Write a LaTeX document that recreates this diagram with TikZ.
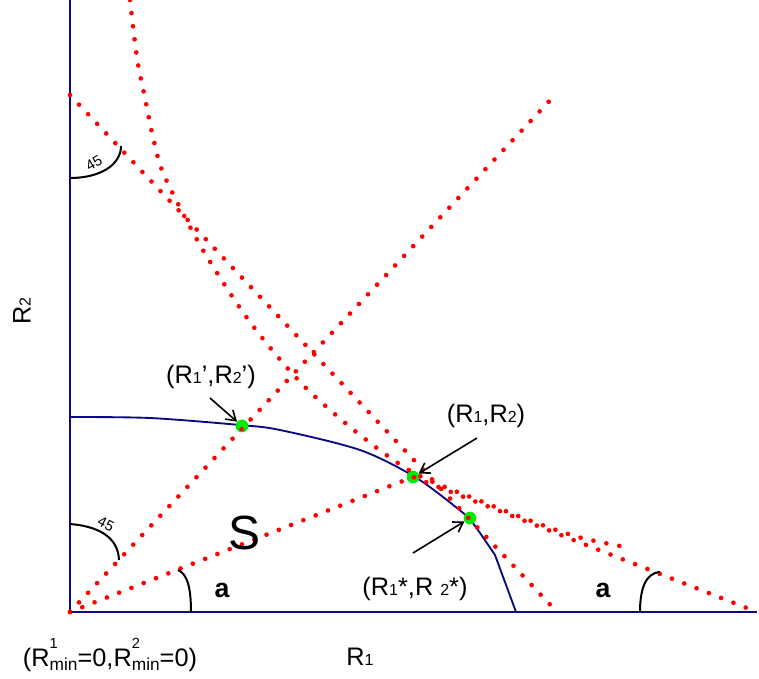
\documentclass[tikz,border=0pt]{standalone}
\usepackage{fontspec}
\setmainfont{Liberation Sans}
\usepackage{tikz}
\usetikzlibrary{arrows.meta,positioning}
\definecolor{axisblue}{RGB}{10,10,130}
\definecolor{ptgreen}{RGB}{0,235,0}
\newcommand{\lsub}[1]{{\fontsize{12}{12}\selectfont #1}}
\newcommand{\rmin}[1]{R\rlap{\raisebox{1.35ex}{\fontsize{11}{11}\selectfont #1}}\raisebox{-0.3ex}{\fontsize{13}{13}\selectfont min}}

\begin{document}
\begin{tikzpicture}[x=0.75pt, y=-0.75pt,
  axisline/.style={draw=axisblue, line width=1.9pt},
  frontier/.style={draw=axisblue, line width=1.4pt},
  reddots/.style={draw=red, line width=3.5pt, line cap=round, dash pattern=on 0pt off 9.9pt},
  hitpt/.style={circle, fill=ptgreen, minimum size=9.5pt, inner sep=0pt},
  lbl/.style={font=\fontsize{19}{22}\selectfont, inner sep=0pt},
  callout/.style={-{Straight Barb[length=7pt,width=9pt]}, line width=1.2pt},
  anglearc/.style={line width=1.5pt}]
\useasboundingbox (0,0) rectangle (759,678);
\coordinate (O) at (70,612);
\coordinate (Ytop) at (70,0);
\coordinate (Xend) at (757,612);
% axes
\draw[axisline] (Ytop) -- (O) -- (Xend);
% capacity region boundary
\draw[frontier] plot[smooth, tension=0.5] coordinates {(70,417) (150,418) (240,425) (280,430) (360,450) (415,477) (457,508) (472,522) (495,555)} -- (516,612);
% operating points
\node[hitpt] (Pp) at (242,426) {};
\node[hitpt] (P) at (413,477) {};
\node[hitpt] (Q) at (470,518) {};
% dotted lines
\draw[reddots] (O) -- (555,95);
\draw[reddots] (70,95) -- (557,612);
\draw[reddots] plot[smooth] coordinates {(130,0) (137,58) (145,98) (153,137) (164,175) (200,245) (240,308) (272,350) (308,390) (360,435) (414,473) (483,502) (534,522) (578,537) (620,546)};
\draw[reddots] (O) -- (P.center) -- (Xend);
% angle marks
\draw[anglearc] (70,178) .. controls (100,178) and (121,165) .. (121,146);
\node[font=\fontsize{11}{11}\selectfont, rotate=30, inner sep=0pt] (degTop) at (94,163) {45};
\draw[anglearc] (70,524) .. controls (95,526) and (118,535) .. (119,560);
\node[font=\fontsize{11}{11}\selectfont, rotate=-28, inner sep=0pt] (degLow) at (106,524) {45};
\draw[anglearc] (178,570) .. controls (188,574) and (191,590) .. (191,612);
\draw[anglearc] (640,612) .. controls (640,590) and (645,573) .. (660,572);
\node[font=\fontsize{20}{20}\selectfont\bfseries, inner sep=0pt] (angL) at (222,590) {a};
\node[font=\fontsize{20}{20}\selectfont\bfseries, inner sep=0pt] (angR) at (603,590) {a};
\node[font=\fontsize{36}{36}\selectfont, inner sep=0pt] (region) at (245,533) {S};
% labels
\node[lbl] (lblPp) at (211,377) {(R\lsub{1}',R\lsub{2}')};
\node[lbl] (lblP) at (486,416) {(R\lsub{1},R\lsub{2})};
\node[lbl] (lblQ) at (415,589) {(R\lsub{1}*,R \lsub{2}*)};
\node[lbl] (lblX) at (360,657) {R\lsub{1}};
\node[lbl, rotate=90] (lblY) at (22,311) {R\lsub{2}};
\node[lbl] (lblO) at (110,655) {(\rmin{1}=0,\rmin{2}=0)};
% arrows
\coordinate (tailPp) at (210,398);
\coordinate (tailP) at (477,438);
\coordinate (tailQ) at (413,553);
\draw[callout] (tailPp) -- (Pp);
\draw[callout] (tailP) -- (P);
\draw[callout] (tailQ) -- (Q);
\end{tikzpicture}
\end{document}
